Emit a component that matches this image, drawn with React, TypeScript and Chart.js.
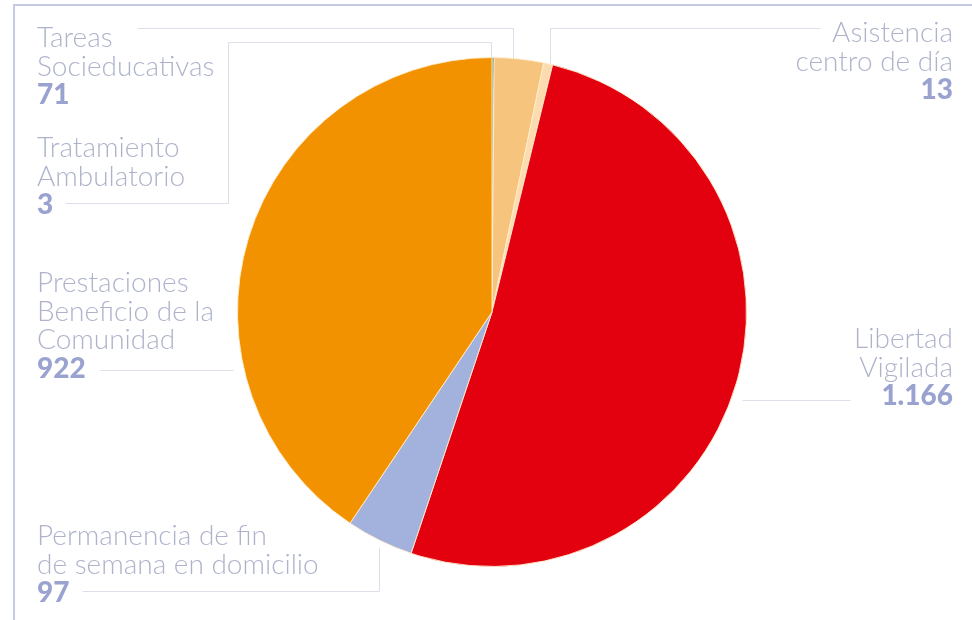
import React, { useEffect, useRef } from "react";
import { Chart, registerables } from "chart.js";

Chart.register(...registerables);

// ---- data ----
const categories = [
  "Tratamiento Ambulatorio",
  "Tareas Socieducativas",
  "Asistencia centro de día",
  "Libertad Vigilada",
  "Permanencia de fin de semana en domicilio",
  "Prestaciones Beneficio de la Comunidad",
];
const values = [3, 71, 13, 1166, 97, 922];
const labelLines = [
  ["Tratamiento", "Ambulatorio"],
  ["Tareas", "Socieducativas"],
  ["Asistencia", "centro de día"],
  ["Libertad", "Vigilada"],
  ["Permanencia de fin", "de semana en domicilio"],
  ["Prestaciones", "Beneficio de la", "Comunidad"],
];
const colors = ["#2f6a5c", "#f7c47e", "#fbdcae", "#e3000f", "#a2b2dc", "#f39200"];

// ---- layout of annotations ----
const W = 972;
const H = 620;
const LINE_H = 28.5;
const labelPos = [
  { x: 37, y: 157, align: "left" },
  { x: 37, y: 47, align: "left" },
  { x: 953, y: 42, align: "right" },
  { x: 953, y: 348, align: "right" },
  { x: 37, y: 545, align: "left" },
  { x: 37, y: 292, align: "left" },
];
// polylines; toArc = vertical drop to the slice's outer edge at last x
const connectors = [
  { pts: [[65, 203], [228, 203], [228, 42], [491, 42]], toArc: true },
  { pts: [[137, 28], [513, 28]], toArc: true },
  { pts: [[820, 28], [550, 28]], toArc: true },
  { pts: [[850, 400], [742, 400]], toArc: false },
  { pts: [[82, 591], [379, 591], [379, 547]], toArc: false },
  { pts: [[100, 370], [233, 370]], toArc: false },
];

const fmt = (v: number) => String(v).replace(/\B(?=(\d{3})+(?!\d))/g, ".");

const annotations = {
  id: "annotations",
  beforeDraw(chart: any) {
    const ctx = chart.ctx;
    ctx.save();
    ctx.fillStyle = "#ffffff";
    ctx.fillRect(0, 0, W, H);
    ctx.strokeStyle = "#c4c9e4";
    ctx.lineWidth = 2;
    ctx.beginPath();
    ctx.moveTo(W, 5);
    ctx.lineTo(14, 5);
    ctx.lineTo(14, H);
    ctx.stroke();
    ctx.restore();
  },
  afterDatasetsDraw(chart: any) {
    const ctx = chart.ctx;
    const arc0 = chart.getDatasetMeta(0).data[0];
    const cx = arc0.x;
    const cy = arc0.y;
    const r = arc0.outerRadius;
    ctx.save();
    ctx.strokeStyle = "#dcdfea";
    ctx.lineWidth = 1;
    connectors.forEach((c) => {
      ctx.beginPath();
      c.pts.forEach((p, i) => (i ? ctx.lineTo(p[0] + 0.5, p[1] + 0.5) : ctx.moveTo(p[0] + 0.5, p[1] + 0.5)));
      if (c.toArc) {
        const last = c.pts[c.pts.length - 1];
        const dx = last[0] - cx;
        const yArc = cy - Math.sqrt(Math.max(r * r - dx * dx, 0));
        ctx.lineTo(last[0] + 0.5, yArc);
      }
      ctx.stroke();
    });
    ctx.textBaseline = "alphabetic";
    labelPos.forEach((p, i) => {
      ctx.textAlign = p.align;
      ctx.fillStyle = "#aeb3cb";
      ctx.font = "300 28px Lato";
      const lines = labelLines[i];
      lines.forEach((t, j) => ctx.fillText(t, p.x, p.y + j * LINE_H));
      ctx.fillStyle = "#9aa3cf";
      ctx.font = "900 28px Lato";
      ctx.fillText(fmt(values[i]), p.x, p.y + lines.length * LINE_H);
    });
    ctx.restore();
  },
};

export default function App() {
  const ref = useRef<HTMLCanvasElement>(null);
  useEffect(() => {
    if (!ref.current) return;
    const chart = new Chart(ref.current, {
      type: "pie",
      data: {
        labels: categories,
        datasets: [
          {
            data: values,
            backgroundColor: colors,
            borderColor: "rgba(255,236,205,0.9)",
            borderWidth: 1,
          },
        ],
      },
      options: {
        responsive: false,
        animation: false,
        layout: { padding: { left: 237, right: 225, top: 57, bottom: 53 } },
        plugins: { legend: { display: false }, tooltip: { enabled: false } },
      },
      plugins: [annotations],
    });
    return () => chart.destroy();
  }, []);
  return (
    <div style={{ position: "fixed", left: 0, top: 0, width: W, height: H, background: "#fff" }}>
      <canvas ref={ref} width={W} height={H} style={{ width: W, height: H, display: "block" }} />
    </div>
  );
}
